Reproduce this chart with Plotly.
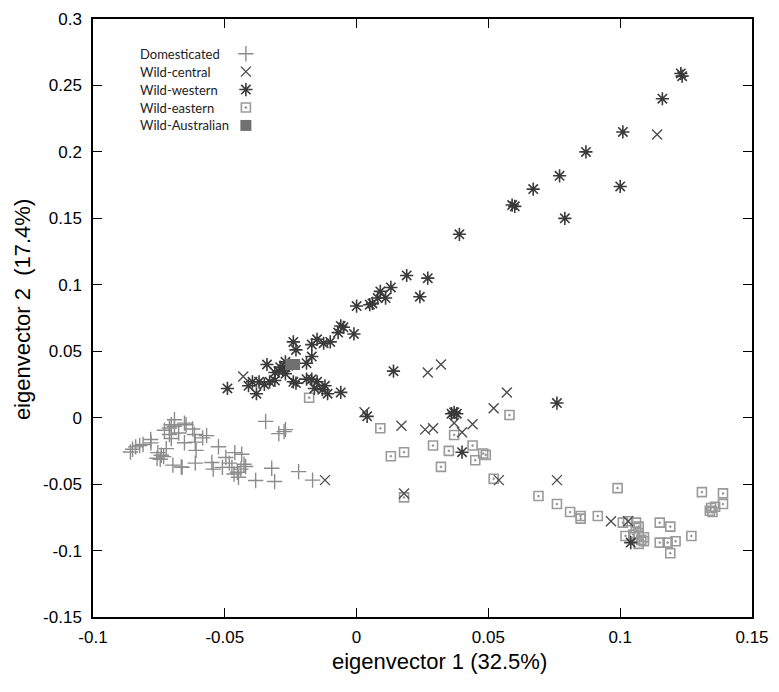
import plotly.graph_objects as go

# ---------------- data ----------------
dom_x = [-0.0858, -0.085, -0.0838, -0.0823, -0.081, -0.0781, -0.078, -0.0754, -0.0741, -0.0757,
         -0.0745, -0.0732, -0.0722, -0.0691, -0.0703, -0.071, -0.0691, -0.0675, -0.071, -0.0703,
         -0.0729, -0.0653, -0.0647, -0.0622, -0.0615, -0.0653, -0.0612, -0.0609, -0.0584, -0.0569,
         -0.0697, -0.0665, -0.0662, -0.0612, -0.0549, -0.0544, -0.0524, -0.0509, -0.0496, -0.0483,
         -0.0473, -0.0465, -0.0452, -0.0462, -0.0436, -0.0427, -0.0421, -0.0439, -0.0448, -0.0383,
         -0.0322, -0.0311, -0.0345, -0.0295, -0.027, -0.0275, -0.022, -0.0167]
dom_y = [-0.0258, -0.0238, -0.022, -0.0209, -0.0202, -0.0164, -0.019, -0.0263, -0.0283, -0.0305,
         -0.0313, -0.0293, -0.0233, -0.0016, -0.0053, -0.0078, -0.0065, -0.0115, -0.0127, -0.0157,
         -0.0095, -0.0041, -0.0053, -0.0085, -0.0127, -0.0189, -0.0184, -0.0246, -0.0152, -0.0135,
         -0.0357, -0.037, -0.0374, -0.0342, -0.0337, -0.0387, -0.0219, -0.0374, -0.03, -0.0342,
         -0.0374, -0.0424, -0.0411, -0.0263, -0.0275, -0.035, -0.0367, -0.0387, -0.0448, -0.0473,
         -0.0381, -0.048, -0.0028, -0.012, -0.009, -0.0105, -0.0406, -0.047]

cen_x = [0.114, 0.027, 0.032, -0.043, 0.003, 0.017, 0.026, 0.029, 0.037, 0.040,
         0.044, 0.057, 0.052, 0.054, 0.018, 0.076, 0.0965, 0.103, -0.012]
cen_y = [0.213, 0.034, 0.040, 0.031, 0.004, -0.006, -0.009, -0.008, -0.004, -0.011,
         -0.005, 0.019, 0.007, -0.047, -0.057, -0.047, -0.078, -0.078, -0.047]

wes_x = [0.1235, 0.123, 0.116, 0.101, 0.087, 0.077, 0.067, 0.100, 0.060, 0.059,
         0.079, 0.039, 0.019, 0.027, 0.024, 0.013, 0.009, 0.011, 0.008, 0.006,
         0.005, 0.0, -0.001, -0.006, -0.005, -0.007, 0.014, -0.015, -0.0125, -0.010,
         -0.017, -0.024, -0.023, -0.017, -0.019, -0.034, -0.029, -0.027, -0.026, -0.028,
         -0.027, -0.0295, -0.031, -0.027, -0.0395, -0.037, -0.035, -0.038, -0.041, -0.049,
         -0.033, -0.031, -0.024, -0.023, -0.019, -0.017, -0.015, -0.012, -0.013, -0.011,
         -0.006, -0.016, 0.004, 0.036, 0.037, 0.038, 0.040, 0.076, 0.104]
wes_y = [0.257, 0.259, 0.240, 0.215, 0.200, 0.182, 0.172, 0.174, 0.159, 0.160,
         0.150, 0.138, 0.107, 0.105, 0.091, 0.098, 0.095, 0.090, 0.090, 0.086,
         0.085, 0.084, 0.063, 0.069, 0.068, 0.064, 0.035, 0.059, 0.056, 0.057,
         0.055, 0.057, 0.051, 0.046, 0.041, 0.040, 0.038, 0.038, 0.039, 0.036,
         0.042, 0.035, 0.034, 0.033, 0.027, 0.027, 0.025, 0.018, 0.024, 0.022,
         0.027, 0.028, 0.027, 0.026, 0.029, 0.029, 0.027, 0.024, 0.021, 0.018,
         0.019, 0.022, 0.001, 0.003, 0.004, 0.003, -0.026, 0.011, -0.094]

eas_x = [-0.018, 0.009, 0.037, 0.058, 0.029, 0.035, 0.044, 0.048, 0.049, 0.045,
         0.013, 0.018, 0.032, 0.052, 0.018, 0.069, 0.076, 0.099, 0.081, 0.085,
         0.085, 0.0915, 0.101, 0.103, 0.106, 0.107, 0.106, 0.102, 0.105, 0.107,
         0.109, 0.108, 0.109, 0.107, 0.105, 0.115, 0.119, 0.115, 0.118, 0.121,
         0.119, 0.127, 0.131, 0.139, 0.139, 0.1345, 0.136, 0.135, 0.134]
eas_y = [0.015, -0.008, -0.013, 0.002, -0.021, -0.025, -0.021, -0.027, -0.028, -0.032,
         -0.029, -0.026, -0.037, -0.046, -0.060, -0.059, -0.065, -0.053, -0.071, -0.074,
         -0.076, -0.074, -0.079, -0.078, -0.079, -0.082, -0.083, -0.089, -0.088, -0.087,
         -0.090, -0.092, -0.093, -0.095, -0.090, -0.079, -0.082, -0.094, -0.094, -0.093,
         -0.102, -0.089, -0.056, -0.057, -0.065, -0.068, -0.067, -0.071, -0.070]

aus_x = [-0.0235, -0.025]
aus_y = [0.040, 0.040]

series_names = ["Domesticated", "Wild-central", "Wild-western", "Wild-eastern", "Wild-Australian"]
x_ticks = [-0.1, -0.05, 0, 0.05, 0.1, 0.15]
x_tick_text = ["-0.1", "-0.05", "0", "0.05", "0.1", "0.15"]
y_ticks = [-0.15, -0.1, -0.05, 0, 0.05, 0.1, 0.15, 0.2, 0.25, 0.3]
y_tick_text = ["-0.15", "-0.1", "-0.05", "0", "0.05", "0.1", "0.15", "0.2", "0.25", "0.3"]

# ---------------- styles ----------------
styles = [
    dict(symbol="cross-thin-open", size=11, color="#8c8c8c", line=dict(width=1.4, color="#8c8c8c")),
    dict(symbol="x-thin-open", size=10, color="#4d4d4d", line=dict(width=1.4, color="#4d4d4d")),
    dict(symbol="asterisk-open", size=11, color="#3a3a3a", line=dict(width=1.6, color="#3a3a3a")),
    dict(symbol="square-open-dot", size=9, color="#9a9a9a", line=dict(width=1.6, color="#9a9a9a")),
    dict(symbol="square", size=11, color="#707070", line=dict(width=0)),
]

fig = go.Figure()
data_xy = [(dom_x, dom_y), (cen_x, cen_y), (wes_x, wes_y), (eas_x, eas_y), (aus_x, aus_y)]
order = [3, 0, 1, 2, 4]
for i in order:
    xs, ys = data_xy[i]
    fig.add_trace(go.Scatter(x=xs, y=ys, mode="markers", name=series_names[i],
                             marker=styles[i], showlegend=False, cliponaxis=False))

# custom legend (text left, symbol right), drawn on an overlay axis spanning the plot area
leg_rows = [0.942, 0.912, 0.882, 0.852, 0.822]
leg_mx = 0.232
for i, name in enumerate(series_names):
    fig.add_trace(go.Scatter(x=[leg_mx], y=[leg_rows[i]], mode="markers", marker=styles[i],
                             xaxis="x2", yaxis="y2", showlegend=False, hoverinfo="skip"))
    fig.add_annotation(x=0.068, y=leg_rows[i], xref="paper", yref="paper", text=name,
                       showarrow=False, xanchor="left", yanchor="middle",
                       font=dict(family="Lato, Open Sans, sans-serif", size=13, color="#222"))

axis_common = dict(showline=True, linecolor="black", linewidth=1.5, mirror="ticks",
                   ticks="inside", ticklen=9, tickwidth=1.2, tickcolor="black",
                   showgrid=False, zeroline=False,
                   tickfont=dict(family="Liberation Sans, Arial, sans-serif", size=17, color="black"))

fig.update_layout(
    width=779, height=692,
    margin=dict(l=93, r=23, t=10, b=75),
    paper_bgcolor="white", plot_bgcolor="white",
    xaxis=dict(range=[-0.1, 0.15], tickvals=x_ticks, ticktext=x_tick_text,
               ticklabelstandoff=4, **axis_common),
    yaxis=dict(range=[-0.15, 0.3], tickvals=y_ticks, ticktext=y_tick_text,
               ticklabelstandoff=6, **axis_common),
    xaxis2=dict(range=[0, 1], overlaying="x", visible=False, fixedrange=True),
    yaxis2=dict(range=[0, 1], overlaying="y", visible=False, fixedrange=True),
    showlegend=False,
)

fig.add_annotation(x=0.526, y=-0.074, xref="paper", yref="paper", text="eigenvector 1 (32.5%)",
                   showarrow=False, xanchor="center", yanchor="middle",
                   font=dict(family="Liberation Sans, Arial, sans-serif", size=22, color="black"))
fig.add_annotation(x=-0.107, y=0.514, xref="paper", yref="paper", text="eigenvector 2  (17.4%)",
                   showarrow=False, xanchor="center", yanchor="middle", textangle=-90,
                   font=dict(family="Liberation Sans, Arial, sans-serif", size=22, color="black"))

fig.write_html("out.html", config={"displayModeBar": False},
               post_script="document.body.style.margin='0';")
